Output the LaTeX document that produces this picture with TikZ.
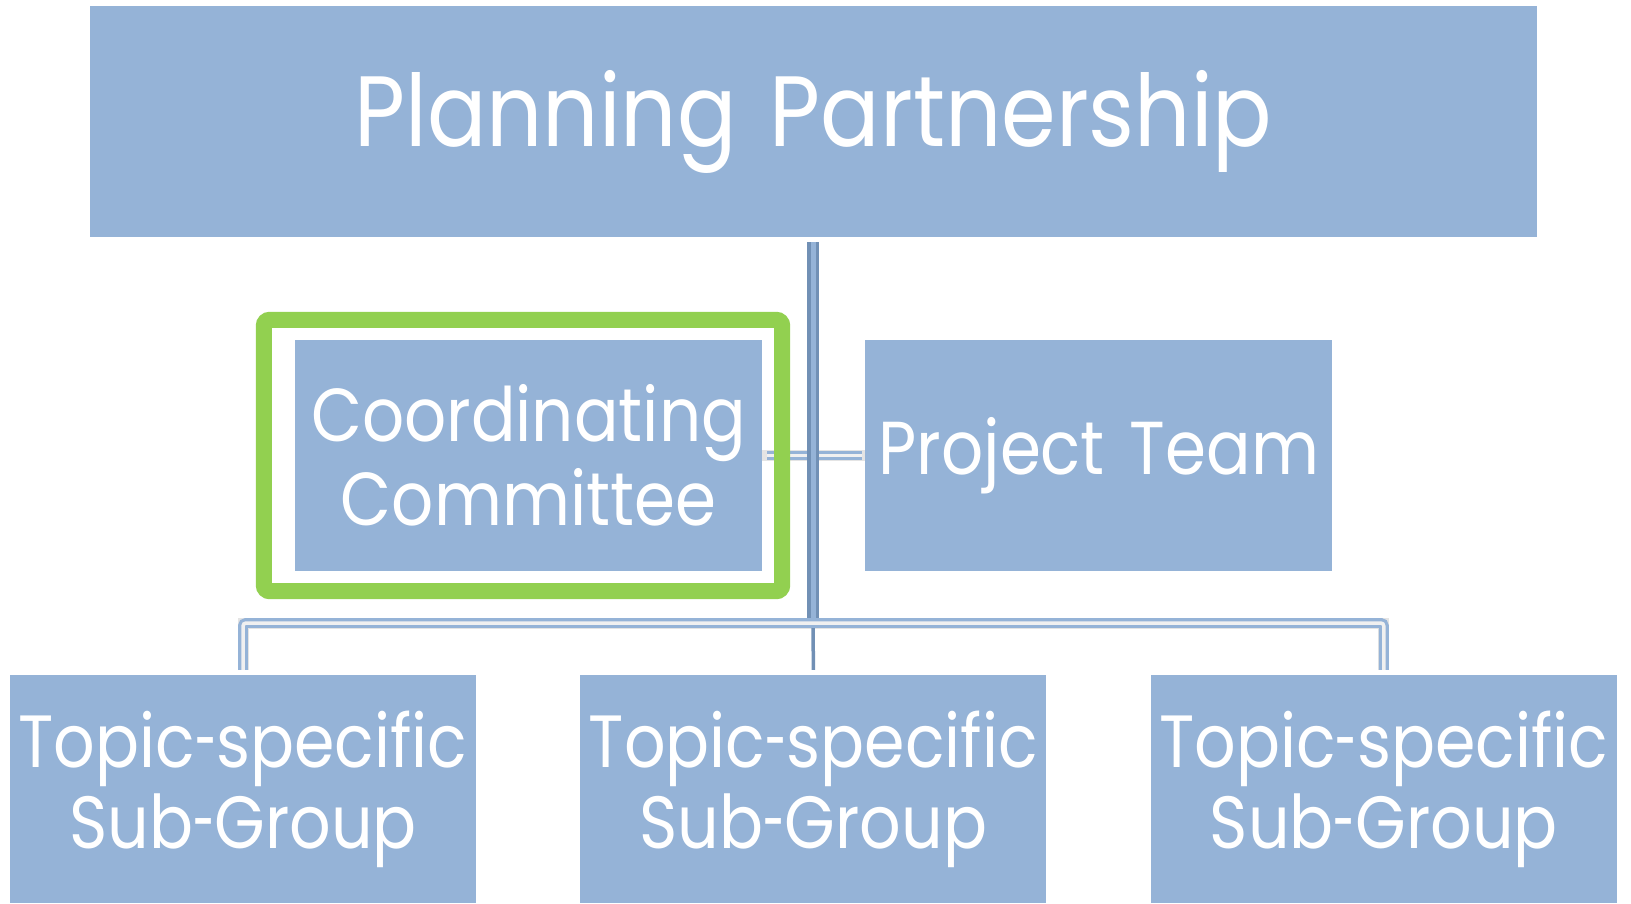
\documentclass[tikz,border=0pt]{standalone}
\usepackage{fontspec}
\setmainfont{Poppins}[FakeStretch=0.88]
\usetikzlibrary{positioning}
\definecolor{boxblue}{HTML}{95B3D7}
\definecolor{framegreen}{HTML}{92D050}
\definecolor{linedark}{HTML}{7190B5}
\newcommand\shy{\scalebox{0.6}[1]{-}}
\tikzset{
  box/.style={fill=boxblue, text=white, align=center, inner sep=0pt},
  topbox/.style={box, minimum width=1447pt, text width=1447pt, minimum height=231pt, font=\fontsize{100}{110}\selectfont},
  midbox/.style={box, minimum width=467pt, text width=467pt, minimum height=231pt, font=\fontsize{75}{84}\selectfont},
  subbox/.style={box, minimum width=466pt, text width=466pt, minimum height=228pt, font=\fontsize{74}{81}\selectfont},
  trunk/.style={draw=linedark, line width=3.5pt, double=boxblue, double distance=5pt},
  bus/.style={draw=boxblue, line width=3.2pt, double=white!94!black, double distance=3.5pt, rounded corners=3pt},
  drop/.style={draw=linedark, line width=3.5pt},
  shade/.style={draw=black!30, line width=11pt, opacity=0.35, shift={(3pt,-5pt)}},
  greenframe/.style={draw=framegreen, line width=16pt, rounded corners=6pt}
}

\begin{document}
\begin{tikzpicture}[x=1pt, y=-1pt]
    \useasboundingbox (0,0) rectangle (1631,903);
    % boxes
    \node[topbox] (plan) at (813.5,121.5) {\raisebox{-16pt}{Planning Partnership}};
    \node[midbox] (coord) at (528.5,455.5) {Coordinating\\Committee};
    \node[midbox, right=103pt of coord] (proj) {Project Team};
    \node[subbox] (sub1) at (243,789) {Topic\shy specific\\Sub\shy Group};
    \node[subbox, right=104pt of sub1] (sub2) {Topic\shy specific\\Sub\shy Group};
    \node[subbox, right=104pt of sub2] (sub3) {Topic\shy specific\\Sub\shy Group};
    % joints of the tree
    \coordinate (top) at (813,242);
    \coordinate (hub) at (813,623);
    \coordinate (busl) at (sub1.north |- hub);
    \coordinate (busr) at (sub3.north |- hub);
    % shadows
    \draw[shade] (coord.east) -- (proj.west);
    \draw[shade] (sub1.north) ++(0,-5) -- (busl) -- (busr) -- ([yshift=5pt]sub3.north);
    \draw[shade] (top) -- (hub);
    % connectors
    \draw[bus, shorten <=5pt, shorten >=3pt] (coord.east) -- (proj.west);
    \draw[greenframe] ([shift={(-31pt,20pt)}]coord.north west) rectangle ([shift={(20pt,-20pt)}]coord.south east);
    \draw[drop] (hub) -- ([yshift=5pt]sub2.north);
    \draw[trunk] (top) -- (hub);
    \draw[bus] ([yshift=5pt]sub1.north) -- (busl) -- (busr) -- ([yshift=5pt]sub3.north);
\end{tikzpicture}
\end{document}
